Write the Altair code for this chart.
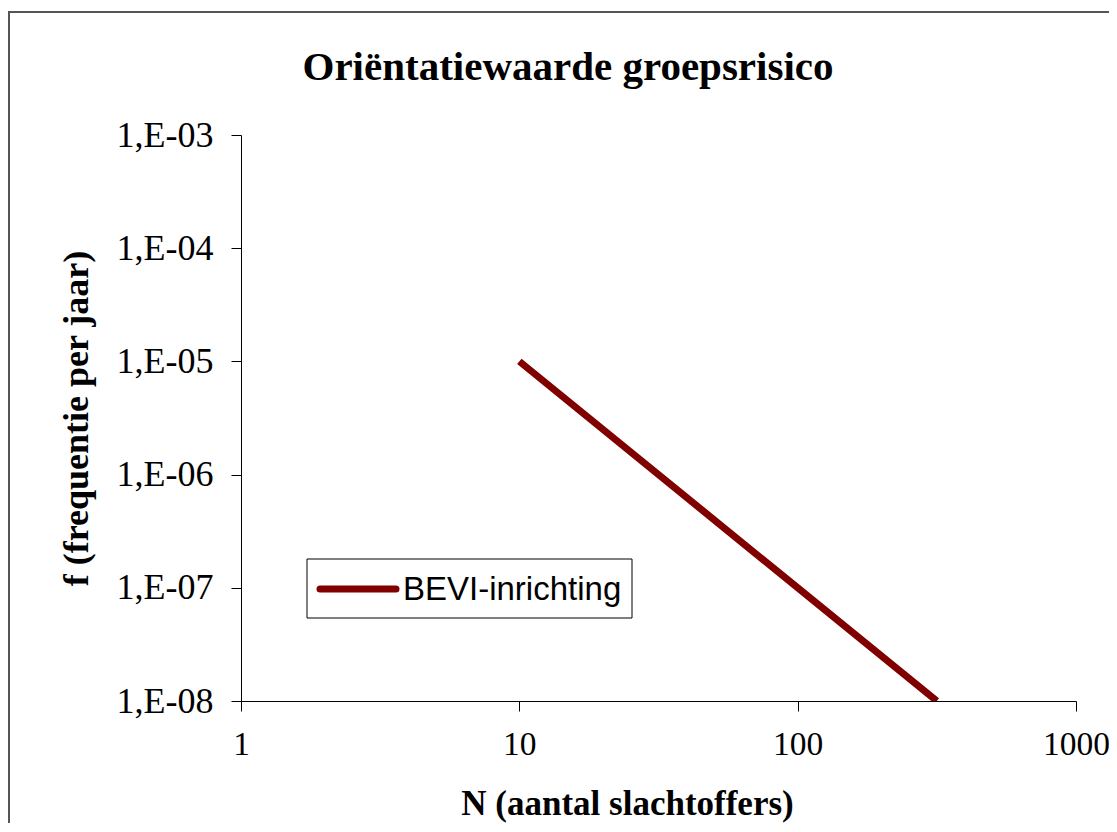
import json
import altair as alt
import pandas as pd

# ---- data ----
series_name = ["BEVI-inrichting"]
n_values = [10, 100, 316.23]
f_values = [1e-5, 1e-7, 1e-8]

x_ticks = [1, 10, 100, 1000]
x_tick_labels = ["1", "10", "100", "1000"]
y_ticks = [1e-8, 1e-7, 1e-6, 1e-5, 1e-4, 1e-3]
y_tick_labels = ["1,E-08", "1,E-07", "1,E-06", "1,E-05", "1,E-04", "1,E-03"]

title_text = ["Oriëntatiewaarde groepsrisico"]
x_title = "N (aantal slachtoffers)"
y_title = "f (frequentie per jaar)"

line_color = "#800000"
serif = "Liberation Serif"
sans = "Liberation Sans"

df = pd.DataFrame({"N": n_values, "f": f_values, "serie": series_name * len(n_values)})
legend_df = pd.DataFrame({"serie": series_name})
title_df = pd.DataFrame({"t": title_text})

W, H = 835, 566


def label_expr(vals, labs):
    return f"{json.dumps(labs)}[indexof({json.dumps(vals)}, datum.value)]"


x_axis = alt.Axis(
    values=x_ticks, labelExpr=label_expr(x_ticks, x_tick_labels),
    title=x_title, grid=False, domainColor="#000000", tickColor="#000000",
    tickSize=10, labelPadding=17, labelFont=serif, labelFontSize=33.5,
    labelColor="#000000", titleFont=serif, titleFontSize=35, titleFontWeight="bold",
    titleColor="#000000", titlePadding=26, labelFlush=False,
    titleX=386, titleAlign="center",
)
y_axis = alt.Axis(
    values=y_ticks, labelExpr=label_expr(y_ticks, y_tick_labels),
    title=y_title, grid=False, domainColor="#000000", tickColor="#000000",
    tickSize=10, labelPadding=18, labelFont=serif, labelFontSize=36,
    labelColor="#000000", titleFont=serif, titleFontSize=36, titleFontWeight="bold",
    titleColor="#000000", titlePadding=21, labelFlush=False,
)

line = alt.Chart(df).mark_line(color=line_color, strokeWidth=7, clip=True).encode(
    x=alt.X("N:Q", scale=alt.Scale(type="log", domain=[1, 1000], nice=False), axis=x_axis),
    y=alt.Y("f:Q", scale=alt.Scale(type="log", domain=[1e-8, 1e-3], nice=False), axis=y_axis),
    detail="serie:N",
)

outer_border = alt.Chart(legend_df).mark_rect(
    fill="transparent", stroke="#555555", strokeWidth=2
).encode(
    x=alt.value(-232), x2=alt.value(1100), y=alt.value(-123), y2=alt.value(900)
)

title_mark = alt.Chart(title_df).mark_text(
    font=serif, fontSize=41, fontWeight="bold", align="center",
    baseline="alphabetic", color="#000000"
).encode(
    x=alt.value(327), y=alt.value(-55), text="t:N"
)

legend_box = alt.Chart(legend_df).mark_rect(
    fill="white", stroke="#000000", strokeWidth=1
).encode(
    x=alt.value(66), x2=alt.value(391), y=alt.value(424), y2=alt.value(483)
)
legend_line = alt.Chart(legend_df).mark_rule(
    color=line_color, strokeWidth=7, strokeCap="round"
).encode(
    x=alt.value(79), x2=alt.value(155), y=alt.value(454)
)
legend_text = alt.Chart(legend_df).mark_text(
    font=sans, fontSize=33, align="left", baseline="middle", color="#000000"
).encode(
    x=alt.value(162), y=alt.value(455), text="serie:N"
)

chart = alt.layer(
    outer_border, title_mark, line, legend_box, legend_line, legend_text
).properties(
    width=W, height=H,
    background="white",
    autosize=alt.AutoSizeParams(type="none"),
    padding={"left": 233, "top": 127, "right": 33, "bottom": 122},
).configure_view(stroke=None, strokeWidth=0)

chart.save("out.html", embed_options={"renderer": "svg", "actions": False})
